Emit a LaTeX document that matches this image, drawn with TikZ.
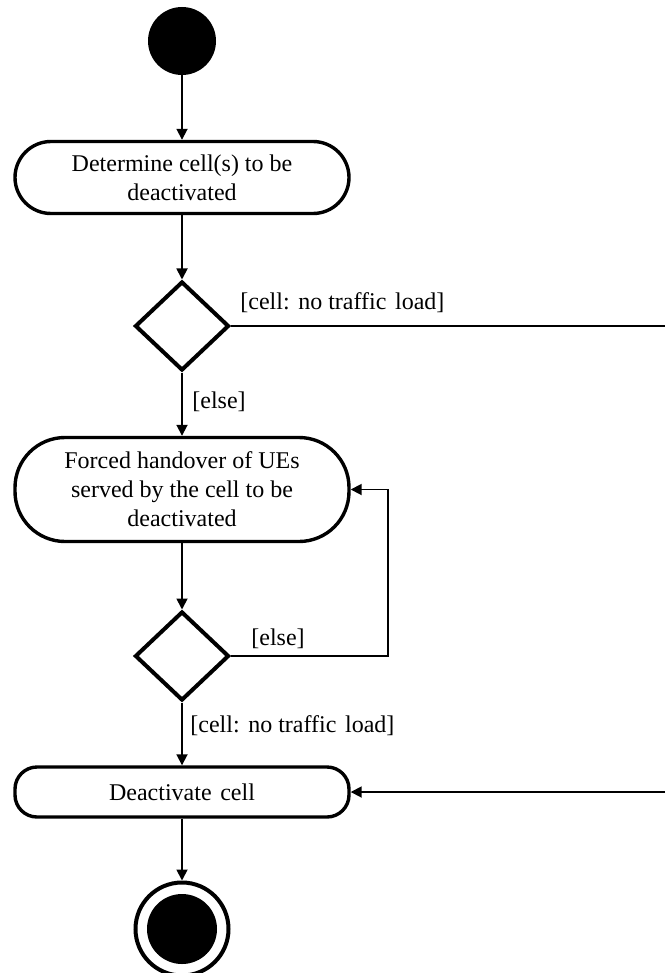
\documentclass[tikz,border=0pt]{standalone}
\usepackage{fontspec}
\setmainfont{Liberation Serif}
\usetikzlibrary{shapes.geometric,arrows.meta}
\newcommand{\gap}{\ \hspace{1.3pt}}
\begin{document}
\begin{tikzpicture}[x=0.5pt,y=-0.5pt,
  every node/.style={font=\fontsize{12}{14.5}\selectfont},
  action/.style={draw,line width=1.7pt,rounded corners=#1,align=center,
    inner sep=0pt,minimum width=167pt},
  action/.default=16pt,
  decision/.style={draw,diamond,line width=2pt,inner sep=0pt,
    minimum width=47pt,minimum height=44.5pt},
  initial/.style={circle,fill=black,inner sep=0pt,minimum size=34pt},
  finalring/.style={circle,draw,line width=2pt,inner sep=0pt,minimum size=46.5pt},
  finaldot/.style={circle,fill=black,inner sep=0pt,minimum size=35pt},
  line/.style={line width=0.9pt},
  flow/.style={line,-{Triangle[width=5.5pt,length=5.5pt]}},
  guard/.style={anchor=west,inner sep=0pt},
]
\useasboundingbox (0,0) rectangle (665,973);

% activity nodes
\node[initial] (start) at (182,41) {};
\node[action=18pt,minimum height=36pt] (det) at (182,177.5)
  {Determine cell(s) to be\\deactivated};
\node[decision] (d1) at (182,326) {};
\node[action=25pt,minimum height=52pt] (ho) at (182,489.5)
  {Forced handover of UEs\\served by the cell to be\\deactivated};
\node[decision] (d2) at (182,656) {};
\node[action=11pt,minimum height=25pt] (deact) at (182,792) {Deactivate\gap cell};
\node[finalring] (stop) at (182,929) {};
\node[finaldot] (stopdot) at (182,929) {};

% off-page ends of the bypass branch and the loop corner
\coordinate (r1) at (665,326);
\coordinate (r2) at (665,792);
\coordinate (loop) at (388,656);

% control flow
\draw[flow] (start) -- (det);
\draw[flow] (det) -- (d1);
\draw[flow] (d1) -- (ho);
\draw[flow] (ho) -- (d2);
\draw[flow] (d2) -- (deact);
\draw[flow] (deact) -- (stop);
\draw[line] (d1.east) -- (r1);
\draw[flow] (r2) -- (deact.east);
\draw[flow] (d2.east) -- (loop) |- (ho.east);

% guard conditions
\node[guard] (g1) at (240,303) {[cell:\gap no traffic\gap load]};
\node[guard] (g2) at (192,402) {[else]};
\node[guard] (g3) at (251,639) {[else]};
\node[guard] (g4) at (190,726) {[cell:\gap no traffic\gap load]};
\end{tikzpicture}
\end{document}
